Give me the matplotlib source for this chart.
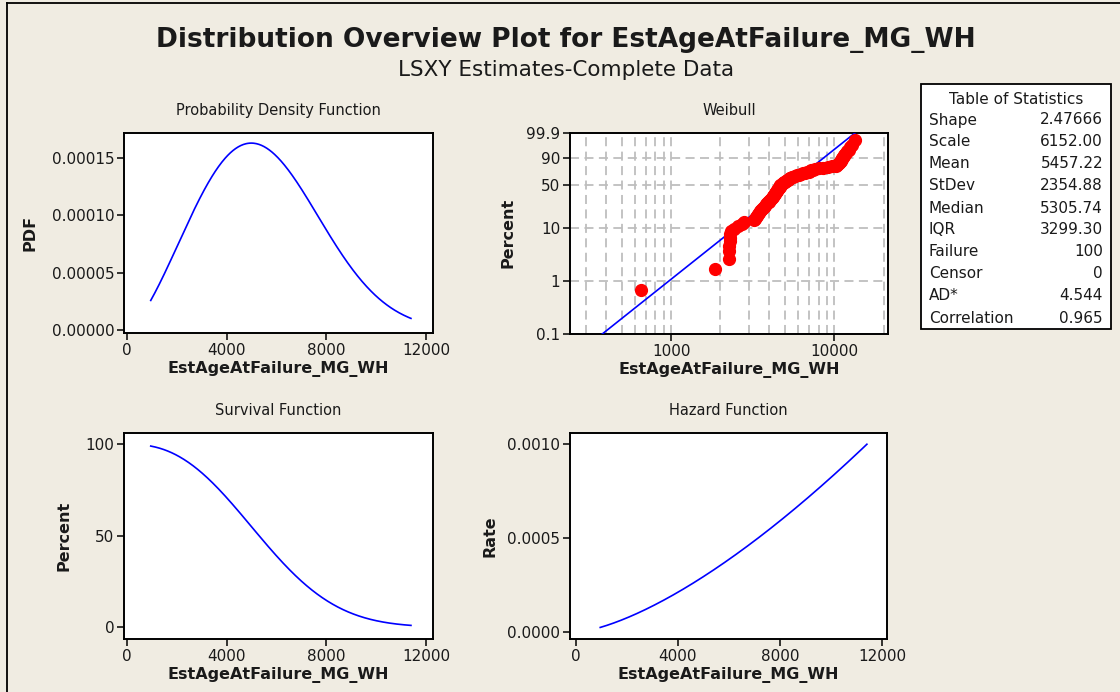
import numpy as np
import matplotlib
matplotlib.use("Agg")
import matplotlib.pyplot as plt
from matplotlib.ticker import FixedLocator, NullFormatter, FuncFormatter, LogLocator
from matplotlib.lines import Line2D
from matplotlib.patches import Rectangle

# ---- fitted Weibull parameters and summary statistics ----
shape = 2.47666
scale = 6152.00
stat_names = ["Shape", "Scale", "Mean", "StDev", "Median", "IQR",
              "Failure", "Censor", "AD*", "Correlation"]
stat_values = [f"{shape:.5f}", f"{scale:.2f}", "5457.22", "2354.88", "5305.74",
               "3299.30", "100", "0", "4.544", "0.965"]

# ---- observed failure ages (sorted), 100 complete observations ----
failure_ages = [
    655, 1860, 2265, 2270, 2275, 2280, 2285, 2290, 2330, 2420,
    2560, 2700, 2800, 3230, 3270, 3310, 3350, 3400, 3450, 3500,
    3560, 3610, 3660, 3710, 3760, 3800, 3850, 3900, 3950, 4000,
    4050, 4100, 4140, 4180, 4220, 4250, 4280, 4310, 4340, 4370,
    4400, 4430, 4460, 4490, 4520, 4550, 4580, 4610, 4640, 4670,
    4710, 4760, 4810, 4860, 4920, 4980, 5040, 5100, 5170, 5240,
    5310, 5380, 5480, 5600, 5750, 5900, 6080, 6250, 6420, 6600,
    6780, 6950, 7100, 7150, 7350, 7650, 8000, 8500, 9100, 9700,
    10200, 10400, 10500, 10600, 10700, 10800, 10900, 11000, 11100, 11200,
    11300, 11400, 11500, 11600, 11750, 11950, 12200, 12500, 12800, 13300,
]

pdf_xticks = [0, 4000, 8000, 12000]
pdf_yticks = [0.0, 0.00005, 0.00010, 0.00015]
surv_yticks = [0, 50, 100]
haz_yticks = [0.0, 0.0005, 0.0010]
prob_yticks = [0.1, 1, 10, 50, 90, 99.9]
prob_xticks = [1000, 10000]

title = "Distribution Overview Plot for EstAgeAtFailure_MG_WH"
subtitle = "LSXY Estimates-Complete Data"
xname = "EstAgeAtFailure_MG_WH"

# ---- styling ----
BG = "#F0ECE2"
BLUE = "#0000FF"
RED = "#FF0000"
GRID = "#BEBEBE"
TXT = "#1A1A1A"
plt.rcParams["font.family"] = ["DejaVu Sans"]

W, H = 1120, 692
fig = plt.figure(figsize=(W / 100, H / 100), dpi=100, facecolor=BG)


def box(l, t, r, b):
    return [l / W, 1 - b / H, (r - l) / W, (b - t) / H]


def weib_q(p):
    return scale * (-np.log(1 - p)) ** (1 / shape)


def weib_pdf(x):
    z = x / scale
    return (shape / scale) * z ** (shape - 1) * np.exp(-z ** shape)


def weib_sf(x):
    return np.exp(-(x / scale) ** shape)


def weib_hz(x):
    return (shape / scale) * (x / scale) ** (shape - 1)


# curves span the 1st to 99th percentile of the fitted distribution
xc = np.linspace(weib_q(0.01), weib_q(0.99), 400)


def style_axes(ax, ylabel, ylabel_x):
    ax.set_facecolor("white")
    for s in ax.spines.values():
        s.set_linewidth(1.4)
        s.set_color("black")
    ax.tick_params(direction="out", length=5, width=1.1, colors="black",
                   labelsize=11, labelcolor=TXT, pad=2)
    ax.set_xlabel(xname, fontsize=11.5, fontweight="bold", color=TXT, labelpad=2)
    ax.set_ylabel(ylabel, fontsize=11.5, fontweight="bold", color=TXT)
    ax.yaxis.set_label_coords(ylabel_x, 0.5)


def panel_title(ax, text):
    ax.set_title(text, fontsize=10.5, color=TXT, pad=13)


# ---- Probability density function ----
ax1 = fig.add_axes(box(124.3, 132.7, 432.7, 333.3))
ax1.plot(xc, weib_pdf(xc), color=BLUE, lw=1.2)
ax1.set_xlim(-100, 12270)
ax1.set_ylim(-0.000003, 0.000172)
ax1.xaxis.set_major_locator(FixedLocator(pdf_xticks))
ax1.yaxis.set_major_locator(FixedLocator(pdf_yticks))
ax1.yaxis.set_major_formatter(FuncFormatter(lambda v, p: f"{v:.5f}"))
style_axes(ax1, "PDF", -0.283)
panel_title(ax1, "Probability Density Function")

# ---- Weibull probability plot ----
def fwd(p):
    p = np.clip(np.asarray(p, dtype=float), 1e-9, 100 - 1e-9)
    return np.log(-np.log(1 - p / 100))


def inv(t):
    return 100 * (1 - np.exp(-np.exp(np.asarray(t, dtype=float))))


ax2 = fig.add_axes(box(570, 132.7, 887.7, 334))
ax2.set_xscale("log")
ax2.set_yscale("function", functions=(fwd, inv))
ax2.set_xlim(240, 21200)
ax2.set_ylim(0.1, 99.9)
ax2.xaxis.set_major_locator(FixedLocator(prob_xticks))
ax2.xaxis.set_major_formatter(FuncFormatter(lambda v, p: f"{v:.0f}"))
ax2.xaxis.set_minor_locator(LogLocator(base=10, subs=np.arange(2, 10)))
ax2.xaxis.set_minor_formatter(NullFormatter())
ax2.yaxis.set_major_locator(FixedLocator(prob_yticks))
ax2.yaxis.set_major_formatter(FuncFormatter(lambda v, p: f"{v:g}"))
ax2.yaxis.set_minor_locator(FixedLocator([]))
ax2.tick_params(axis="x", which="minor", length=0)
ax2.grid(True, which="both", axis="x", color=GRID, lw=1.3, ls=(0, (5, 3)))
ax2.grid(True, which="major", axis="y", color=GRID, lw=1.3, ls=(0, (5, 3)))
ax2.set_axisbelow(True)

pline = np.linspace(0.001, 0.999, 300)
ax2.plot(weib_q(pline), pline * 100, color=BLUE, lw=1.2, zorder=3)
n = len(failure_ages)
ranks = np.arange(1, n + 1)
plot_pos = (ranks - 0.3) / (n + 0.4) * 100
ax2.plot(failure_ages, plot_pos, ls="none", marker="o", ms=8.5,
         mfc=RED, mec=RED, zorder=4, clip_on=False)
style_axes(ax2, "Percent", -0.173)
panel_title(ax2, "Weibull")

# ---- Survival function ----
ax3 = fig.add_axes(box(124.3, 432.7, 432.7, 639.3))
ax3.plot(xc, weib_sf(xc) * 100, color=BLUE, lw=1.2)
ax3.set_xlim(-100, 12270)
ax3.set_ylim(-6.6, 106.3)
ax3.xaxis.set_major_locator(FixedLocator(pdf_xticks))
ax3.yaxis.set_major_locator(FixedLocator(surv_yticks))
style_axes(ax3, "Percent", -0.170)
panel_title(ax3, "Survival Function")

# ---- Hazard function ----
ax4 = fig.add_axes(box(570, 432.7, 887.3, 639.3))
ax4.plot(xc, weib_hz(xc), color=BLUE, lw=1.2)
ax4.set_xlim(-223, 12196)
ax4.set_ylim(-0.0000372, 0.001062)
ax4.xaxis.set_major_locator(FixedLocator(pdf_xticks))
ax4.yaxis.set_major_locator(FixedLocator(haz_yticks))
ax4.yaxis.set_major_formatter(FuncFormatter(lambda v, p: f"{v:.4f}"))
style_axes(ax4, "Rate", -0.230)
panel_title(ax4, "Hazard Function")

# ---- titles ----
fig.text(566 / W, 1 - 40 / H, title, ha="center", va="center",
         fontsize=19, fontweight="bold", color=TXT)
fig.text(566 / W, 1 - 70 / H, subtitle, ha="center", va="center",
         fontsize=15.5, color=TXT)

# ---- table of statistics ----
tl, tt, tr, tb = 921, 84, 1111, 329
fig.add_artist(Rectangle((tl / W, 1 - tb / H), (tr - tl) / W, (tb - tt) / H,
                         transform=fig.transFigure, facecolor="white",
                         edgecolor="black", lw=1.3))
fig.text((tl + tr) / 2 / W, 1 - 99 / H, "Table of Statistics", ha="center",
         va="center", fontsize=11, color=TXT)
for i, (nm, vl) in enumerate(zip(stat_names, stat_values)):
    y = 1 - (120 + i * 22.0) / H
    fig.text(929 / W, y, nm, ha="left", va="center", fontsize=11, color=TXT)
    fig.text(1103 / W, y, vl, ha="right", va="center", fontsize=11, color=TXT)

# ---- outer frame edges ----
fig.add_artist(Line2D([7 / W, 7 / W], [0, 1 - 3 / H], transform=fig.transFigure,
                      color="black", lw=1.3))
fig.add_artist(Line2D([7 / W, 1], [1 - 3 / H, 1 - 3 / H], transform=fig.transFigure,
                      color="black", lw=1.3))

fig.savefig("out.png", dpi=100, facecolor=BG)
